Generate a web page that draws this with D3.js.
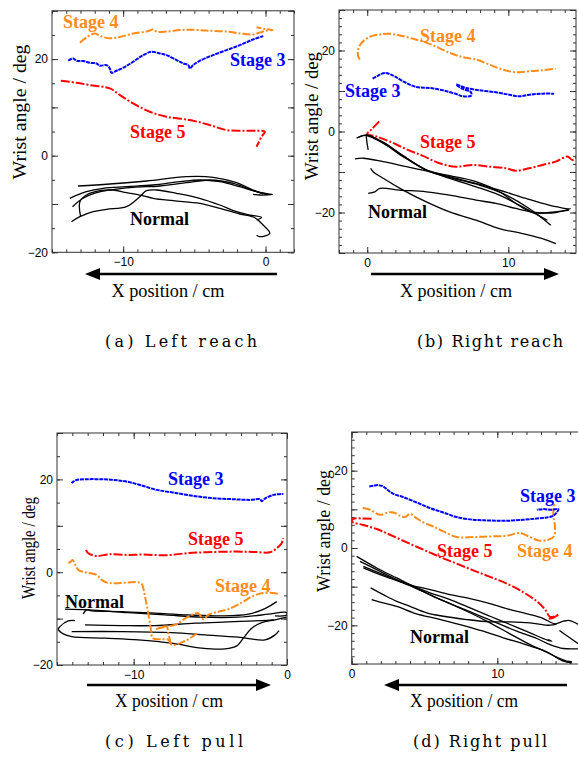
<!DOCTYPE html>
<html>
<head>
<meta charset="utf-8">
<script src="https://cdn.jsdelivr.net/npm/d3@7"></script>
<style>
  body { margin: 0; background: #fff; }
  svg { display: block; }
</style>
</head>
<body>
<div id="chart"></div>
<script>
// ---- (a) left reach : [x cm, wrist deg]
const leftReachStage4 = [[-13.04,23.4],[-12.58,24.5],[-11.99,25.3],[-11.64,24.8],[-10.94,24.3],[-10.23,24.6],[-9.30,25.3],[-8.36,25.7],[-7.89,26.1],[-7.66,25.7],[-6.96,25.7],[-6.02,26.0],[-5.32,26.1],[-4.15,25.9],[-2.74,25.7],[-1.80,25.3],[-0.87,25.1],[-0.40,25.5],[0.07,25.9],[0.49,26.0],[-0.16,26.3],[-0.63,26.6]];
const leftReachStage3 = [[-13.86,19.66],[-13.51,20.14],[-13.28,19.66],[-12.81,19.59],[-12.34,19.24],[-11.87,19.10],[-11.64,18.62],[-11.17,18.76],[-10.94,18.07],[-10.82,17.17],[-10.47,17.59],[-10.0,18.21],[-9.30,19.45],[-8.59,20.83],[-8.01,21.52],[-7.42,21.17],[-6.96,20.83],[-6.25,19.79],[-5.78,19.10],[-5.43,18.76],[-5.32,18.07],[-5.08,18.76],[-4.61,19.66],[-3.68,20.83],[-2.74,21.86],[-1.80,22.90],[-0.87,24.07],[-0.16,24.76]];
const leftReachStage5 = [[-14.38,15.52],[-13.28,15.10],[-12.34,14.62],[-10.94,13.93],[-10.23,12.55],[-9.30,10.83],[-8.13,9.10],[-6.96,8.07],[-5.32,7.38],[-3.91,6.34],[-2.74,5.31],[-1.57,5.17],[-0.63,5.17],[-0.05,4.97],[-0.28,3.93],[-0.63,1.86]];
const leftReachNormal = [
  [[-13.17,-6.27],[-10.94,-5.86],[-8.36,-5.24],[-5.55,-4.35],[-3.68,-4.47],[-2.04,-5.59],[-0.87,-7.10],[-0.17,-7.79],[0.49,-8.0],[-0.40,-8.14],[-0.87,-8.0]],
  [[-13.75,-8.82],[-12.58,-7.45],[-11.41,-6.75],[-9.77,-6.42],[-7.90,-6.07],[-6.02,-5.38],[-4.62,-5.03],[-3.21,-5.38],[-1.81,-6.42],[-0.63,-7.45],[0.18,-7.93]],
  [[-13.63,-13.66],[-13.04,-12.63],[-12.11,-11.59],[-11.17,-11.10],[-9.77,-10.56],[-8.83,-8.49],[-8.36,-7.25],[-7.66,-7.10],[-6.25,-7.79],[-4.62,-8.82],[-3.21,-10.21],[-2.04,-11.59],[-1.10,-12.28],[-0.28,-12.76],[-0.63,-13.31]],
  [[-12.99,-12.63],[-13.04,-9.53],[-12.58,-8.14],[-11.64,-7.25],[-10.71,-7.10],[-9.77,-7.66],[-8.83,-8.14],[-7.90,-8.82],[-6.49,-9.32],[-4.62,-9.86],[-3.21,-10.89],[-1.81,-12.07],[-0.75,-12.84],[-0.17,-14.35],[0.30,-16.07],[-0.40,-16.77],[-0.63,-16.48]],
  [[-13.56,-10.56],[-12.82,-8.82],[-11.88,-7.66],[-10.94,-7.10],[-9.30,-6.55],[-7.43,-6.27],[-5.55,-5.59],[-3.91,-5.03],[-2.27,-5.72],[-1.10,-6.96],[-0.17,-7.93]]
];

// ---- (b) right reach
const rightReachStage4 = [[-0.52,17.77],[-0.64,18.60],[-0.64,20.25],[-0.40,21.90],[0.19,23.39],[0.89,23.97],[1.60,24.13],[2.31,23.72],[3.25,22.89],[4.42,21.65],[5.84,19.42],[6.78,18.35],[7.72,17.77],[8.66,16.53],[9.60,15.29],[10.54,14.63],[11.48,14.88],[12.42,15.12],[13.36,15.54]];
const rightReachStage3 = [[0.38,13.06],[0.78,13.80],[1.25,14.46],[1.84,13.80],[2.54,12.40],[3.48,10.99],[4.42,10.74],[5.36,10.17],[6.31,9.26],[6.78,8.68],[7.36,8.84],[7.36,9.67],[6.78,10.50],[6.31,11.57],[7.01,10.74],[7.95,10.17],[9.13,9.67],[10.07,9.09],[10.78,8.68],[11.48,9.09],[12.42,9.34],[13.25,9.34]];
const rightReachStage5 = [[0.85,2.5],[0.3,0.5],[0,-0.6],[0.66,-1.24],[1.60,-2.48],[2.78,-4.38],[3.95,-6.03],[5.13,-7.85],[6.31,-8.68],[7.48,-8.26],[8.66,-8.68],[9.84,-9.09],[10.54,-9.67],[11.48,-9.09],[12.42,-8.26],[13.36,-7.44],[14.19,-6.20],[14.54,-7.02],[14.89,-6.20]];
const rightReachNormal = [
  [[-0.75,-1.64],[-0.52,-1.24],[-0.04,-0.99],[1.13,-2.88],[2.54,-6.20],[4.19,-9.50],[5.84,-11.56],[7.72,-13.65],[9.37,-15.71],[11.01,-18.61],[12.77,-21.91]],
  [[0.07,-4.54],[-0.04,-2.06],[-0.04,-0.99],[1.37,-3.30],[2.78,-6.60],[4.31,-9.75],[6.07,-11.56],[7.95,-13.23],[9.60,-15.29],[11.48,-19.01],[13.01,-23.15]],
  [[-0.64,-1.49],[-0.04,-0.82],[1.13,-2.63],[2.54,-5.96],[4.07,-9.26],[5.84,-11.17],[7.72,-12.80],[9.37,-14.47],[11.25,-16.53],[12.89,-18.19],[14.30,-19.18]],
  [[-0.87,-6.77],[-0.28,-6.60],[1.13,-7.44],[2.78,-8.68],[4.19,-9.75],[5.84,-10.92],[7.72,-12.40],[9.37,-14.89],[10.54,-17.77],[11.72,-20.0],[12.89,-20.0],[14.30,-19.43]],
  [[0.24,-9.08],[0.42,-9.92],[1.13,-11.56],[2.54,-14.47],[4.19,-17.37],[5.84,-19.85],[7.72,-21.91],[9.37,-23.97],[11.01,-25.21],[12.42,-26.45],[13.37,-27.69]],
  [[0.07,-15.29],[0.54,-14.89],[0.90,-14.05],[2.31,-14.47],[4.19,-14.89],[5.84,-15.71],[7.72,-16.95],[9.13,-17.77],[10.54,-19.01],[11.95,-20.0],[13.37,-20.0],[14.42,-19.01]]
];

// ---- (c) left pull
const leftPullStage3 = [[-14.05,19.18],[-13.94,19.53],[-13.72,19.89],[-13.07,20.04],[-12.20,20.04],[-11.33,19.89],[-10.46,19.53],[-9.59,18.81],[-8.50,17.74],[-7.42,17.16],[-6.11,16.44],[-4.81,15.95],[-3.50,15.73],[-2.41,15.58],[-1.76,15.73],[-1.65,15.30],[-1.44,15.86],[-0.89,16.66],[-0.24,16.88]];
const leftPullStage5 = [[-13.11,4.81],[-12.96,4.09],[-12.41,3.51],[-11.55,3.88],[-10.46,3.73],[-9.37,3.80],[-7.85,3.66],[-6.54,4.09],[-5.24,4.31],[-3.50,4.44],[-2.20,4.38],[-1.11,4.31],[-0.67,5.17],[-0.35,6.25],[-0.24,7.33]];
const leftPullStage4 = [
  [[-14.26,1.94],[-14.11,2.28],[-13.98,2.65],[-13.83,1.79],[-13.61,0.50],[-13.07,-0.09],[-12.41,-0.58],[-12.09,-1.66],[-11.76,-2.24],[-11.22,-2.37],[-9.59,-2.24],[-9.44,-2.74],[-9.26,-5.26],[-9.05,-8.84],[-8.87,-12.44],[-8.76,-14.22],[-8.17,-14.44],[-7.74,-14.59],[-7.52,-15.67],[-6.65,-14.81],[-5.79,-13.02]],
  [[-7.57,-15.45],[-7.74,-13.15],[-7.85,-11.72],[-8.50,-12.22],[-7.85,-11.72],[-7.31,-11.36],[-6.44,-9.57],[-5.79,-8.84],[-5.46,-10.13],[-5.13,-9.20],[-4.48,-8.49],[-3.83,-7.97],[-2.95,-6.55],[-2.30,-5.26],[-1.65,-4.53],[-0.78,-4.53],[-0.57,-4.74]]
];
const leftPullNormal = [
  [[-13.29,-8.99],[-13.07,-8.13],[-12.74,-8.34],[-10.78,-8.49],[-8.61,-8.84],[-6.44,-9.20],[-4.26,-9.42],[-2.52,-9.05],[-1.44,-7.84],[-0.67,-6.34]],
  [[-14.48,-7.97],[-12.96,-8.13],[-10.35,-8.71],[-7.96,-9.20],[-5.56,-9.70],[-3.18,-9.70],[-1.22,-9.05],[-0.13,-8.62],[0.04,-8.99],[-0.13,-9.35],[-0.78,-9.42]],
  [[-13.18,-11.36],[-10.78,-11.51],[-8.61,-11.51],[-6.0,-10.99],[-3.83,-10.71],[-1.65,-10.43],[-0.89,-10.28]],
  [[-14.04,-12.80],[-10.78,-12.80],[-7.52,-13.02],[-5.35,-13.51],[-3.18,-14.01],[-1.44,-14.59],[-0.78,-13.51],[-0.52,-12.59]],
  [[-13.83,-10.43],[-14.27,-10.50],[-14.81,-11.72],[-14.92,-12.28],[-14.59,-13.30],[-14.04,-13.88],[-11.87,-14.22],[-9.70,-14.59],[-7.52,-15.30],[-5.56,-16.38],[-4.04,-16.53],[-3.28,-15.88],[-2.85,-14.22],[-2.30,-12.07],[-1.65,-10.86],[-0.78,-10.28],[-0.02,-9.70]]
];

// ---- (d) right pull
const rightPullStage3 = [[1.21,15.90],[1.48,16.08],[1.83,16.26],[2.17,15.90],[2.51,14.86],[2.86,14.01],[3.54,13.16],[4.46,11.77],[5.38,10.32],[6.29,9.19],[7.21,8.0],[8.35,7.30],[9.50,7.12],[10.65,7.05],[11.79,7.30],[12.71,7.64],[13.39,7.90],[13.85,8.34],[14.08,9.19],[14.19,10.06],[13.74,9.88],[13.16,10.06],[12.71,9.88]];
const rightPullStage4 = [[0.76,10.32],[1.26,9.88],[1.94,8.59],[2.51,9.19],[2.86,9.19],[3.32,8.34],[3.66,8.0],[4.00,8.85],[4.35,8.0],[4.92,6.61],[5.60,5.57],[6.29,4.28],[7.21,2.84],[8.35,2.84],[9.50,2.99],[10.65,3.17],[11.56,3.87],[12.25,2.84],[12.82,1.96],[13.50,2.14],[13.89,2.99],[13.96,5.57],[13.85,8.16],[13.85,9.88],[13.96,11.61]];
const rightPullStage5 = [[1.37,7.56],[0.69,7.64],[0.11,7.56],[0,6.86],[0.80,5.94],[1.72,4.90],[2.63,3.43],[3.78,1.45],[4.92,-0.44],[6.06,-2.32],[7.21,-4.05],[8.35,-5.78],[9.50,-7.48],[10.65,-9.21],[11.79,-11.46],[12.71,-13.78],[13.28,-15.92],[13.62,-17.81],[14.08,-17.47],[14.19,-17.21],[13.85,-18.06],[13.50,-18.32]];
const rightPullNormal = [
  [[0.34,-2.17],[1.72,-5.16],[3.09,-7.74],[4.0,-9.47],[5.38,-11.61],[6.75,-13.34],[8.13,-15.48],[9.50,-17.65],[10.87,-19.79],[12.25,-21.94],[13.16,-23.41],[13.74,-24.10],[13.50,-23.66]],
  [[0.57,-3.46],[1.72,-5.60],[3.09,-8.18],[4.12,-9.91],[5.60,-12.49],[7.21,-15.07],[8.59,-17.21],[9.96,-19.35],[11.33,-21.52],[12.71,-23.41],[13.62,-24.97],[14.53,-25.99],[15.56,-26.07]],
  [[0.80,-4.75],[2.17,-6.89],[3.32,-8.62],[4.12,-9.65],[5.38,-10.76],[6.75,-12.05],[8.13,-13.08],[9.50,-14.37],[10.87,-15.92],[12.25,-17.21],[13.16,-18.25],[13.96,-19.61],[14.53,-18.94],[14.99,-18.76],[15.56,-19.79]],
  [[0.80,-5.16],[1.94,-6.89],[3.32,-8.77],[4.23,-10.06],[5.60,-12.49],[7.90,-16.36],[9.50,-19.35],[10.87,-22.20],[12.25,-24.97],[13.62,-27.36],[14.53,-29.27],[15.11,-29.68]],
  [[1.30,-10.32],[2.17,-12.05],[3.09,-13.78],[4.0,-15.07],[5.15,-16.78],[6.29,-17.65],[7.90,-18.50],[9.50,-19.10],[10.87,-19.10],[12.25,-19.35],[13.62,-19.97],[14.08,-19.61]],
  [[1.37,-13.34],[2.17,-14.19],[3.09,-15.07],[4.46,-17.03],[5.84,-18.25],[7.44,-19.79],[9.04,-21.52],[10.41,-23.23],[11.79,-24.77],[13.16,-26.50],[14.08,-28.23],[14.77,-29.27],[15.11,-29.42]],
  [[14.26,-21.34],[15.56,-24.77]]
];

// tick labels
const yTickLabels = [-20, 0, 20];
const leftXTickLabels = [-10, 0];
const rightXTickLabels = [0, 10];

const ORANGE = "#ff8c1a", BLUE = "#0000ff", RED = "#ff0000";
const styles = {
  stage3: { color: BLUE, dash: "4,0.8", width: 2 },
  stage4: { color: ORANGE, dash: "8,2,2,2", width: 2 },
  stage5: { color: RED, dash: "9,2,2,2", width: 2 },
  normal: { color: "#000", dash: null, width: 1.3 }
};

const panels = [
  { id: "a", left: 52, right: 294, top: 10.8, bottom: 252.3, xDomain: [-15, 2], yDomain: [-20, 30], yMinor: 5,
    xLabels: leftXTickLabels, arrow: { from: 277, to: 85, y: 274 },
    xTitle: { x: 168, y: 297, len: 113 }, yTitle: { x: 26, y: 112, len: 135 },
    caption: { x: 105, y: 347, len: 152, text: "(a) Left reach" },
    series: [
      { style: "stage4", traces: [leftReachStage4] },
      { style: "stage3", traces: [leftReachStage3] },
      { style: "stage5", traces: [leftReachStage5] },
      { style: "normal", traces: leftReachNormal }
    ],
    notes: [["Stage 4", "stage4", 63, 28], ["Stage 3", "stage3", 230, 66], ["Stage 5", "stage5", 130, 138], ["Normal", "normal", 130, 225]] },
  { id: "b", left: 339, right: 576, top: 10, bottom: 253, xDomain: [-2, 14.8], yDomain: [-30, 30], yMinor: 2,
    xLabels: rightXTickLabels, arrow: { from: 371, to: 559, y: 274 },
    xTitle: { x: 456, y: 297, len: 112 }, yTitle: { x: 318, y: 116, len: 128 },
    caption: { x: 417, y: 347, len: 146, text: "(b) Right reach" },
    series: [
      { style: "stage4", traces: [rightReachStage4] },
      { style: "stage3", traces: [rightReachStage3] },
      { style: "stage5", traces: [rightReachStage5] },
      { style: "normal", traces: rightReachNormal }
    ],
    notes: [["Stage 4", "stage4", 420, 42], ["Stage 3", "stage3", 345, 97], ["Stage 5", "stage5", 420, 148], ["Normal", "normal", 368, 218]] },
  { id: "c", left: 57, right: 287, top: 433, bottom: 665, xDomain: [-15, 0], yDomain: [-20, 30], yMinor: 5,
    xLabels: leftXTickLabels, arrow: { from: 87, to: 271, y: 685 },
    xTitle: { x: 169, y: 707, len: 108 }, yTitle: { x: 35, y: 548, len: 102 },
    caption: { x: 105, y: 747, len: 138, text: "(c) Left pull" },
    series: [
      { style: "normal", traces: leftPullNormal },
      { style: "stage3", traces: [leftPullStage3] },
      { style: "stage5", traces: [leftPullStage5] },
      { style: "stage4", traces: leftPullStage4 }
    ],
    notes: [["Stage 3", "stage3", 168, 485], ["Stage 5", "stage5", 188, 545], ["Stage 4", "stage4", 215, 592], ["Normal", "normal", 65, 608]] },
  { id: "d", left: 351.7, right: 584.7, top: 432, bottom: 664, xDomain: [0, 16], yDomain: [-30, 30], yMinor: 2,
    xLabels: rightXTickLabels, arrow: { from: 567, to: 384, y: 685 },
    xTitle: { x: 464, y: 707, len: 108 }, yTitle: { x: 330, y: 531, len: 122 },
    caption: { x: 413, y: 747, len: 134, text: "(d) Right pull" },
    series: [
      { style: "normal", traces: rightPullNormal },
      { style: "stage5", traces: [rightPullStage5] },
      { style: "stage4", traces: [rightPullStage4] },
      { style: "stage3", traces: [rightPullStage3] }
    ],
    notes: [["Stage 3", "stage3", 520, 502], ["Stage 5", "stage5", 437, 557], ["Stage 4", "stage4", 517, 557], ["Normal", "normal", 410, 643]] }
];

const svg = d3.select("#chart").append("svg")
    .attr("width", 578)
    .attr("height", 769);

const fmt = d3.format("d");
const SERIF = "Liberation Serif, Times New Roman, serif";

function drawPanel(p) {
  const x = d3.scaleLinear().domain(p.xDomain).range([p.left, p.right]);
  const y = d3.scaleLinear().domain(p.yDomain).range([p.bottom, p.top]);
  const g = svg.append("g");

  // x ticks every 1 cm, long ones every 10
  const xMinor = d3.range(Math.ceil(p.xDomain[0]), Math.floor(p.xDomain[1]) + 1);
  const xMajor = xMinor.filter(d => d % 10 === 0);
  const yMinorVals = d3.range(p.yDomain[0], p.yDomain[1] + 0.01, p.yMinor);
  const yMajor = yMinorVals.filter(d => d % 10 === 0);

  const tickStyle = sel => {
    sel.select(".domain").remove();
    sel.selectAll("line").attr("stroke", "#333");
    sel.selectAll("text").attr("font-family", "Liberation Sans, Arial, sans-serif").attr("font-size", 12).attr("fill", "#000");
  };

  // minor ticks on all four sides
  g.append("g").attr("transform", `translate(0,${p.bottom})`)
    .call(d3.axisBottom(x).tickValues(xMinor).tickSize(-3).tickFormat("")).call(tickStyle);
  g.append("g").attr("transform", `translate(0,${p.top})`)
    .call(d3.axisTop(x).tickValues(xMinor).tickSize(-3).tickFormat("")).call(tickStyle);
  g.append("g").attr("transform", `translate(${p.left},0)`)
    .call(d3.axisLeft(y).tickValues(yMinorVals).tickSize(-3).tickFormat("")).call(tickStyle);
  g.append("g").attr("transform", `translate(${p.right},0)`)
    .call(d3.axisRight(y).tickValues(yMinorVals).tickSize(-3).tickFormat("")).call(tickStyle);

  // major ticks with labels
  g.append("g").attr("transform", `translate(0,${p.bottom})`)
    .call(d3.axisBottom(x).tickValues(xMajor).tickSize(-6).tickPadding(5)
      .tickFormat(d => p.xLabels.includes(d) ? fmt(d) : "")).call(tickStyle);
  g.append("g").attr("transform", `translate(0,${p.top})`)
    .call(d3.axisTop(x).tickValues(xMajor).tickSize(-6).tickFormat("")).call(tickStyle);
  g.append("g").attr("transform", `translate(${p.left},0)`)
    .call(d3.axisLeft(y).tickValues(yMajor).tickSize(-6).tickPadding(4)
      .tickFormat(d => yTickLabels.includes(d) ? fmt(d) : "")).call(tickStyle);
  g.append("g").attr("transform", `translate(${p.right},0)`)
    .call(d3.axisRight(y).tickValues(yMajor).tickSize(-6).tickFormat("")).call(tickStyle);

  // frame
  g.append("rect")
    .attr("x", p.left).attr("y", p.top)
    .attr("width", p.right - p.left).attr("height", p.bottom - p.top)
    .attr("fill", "none").attr("stroke", "#333").attr("stroke-width", 1);

  // clip for the traces
  svg.append("clipPath").attr("id", "clip-" + p.id)
    .append("rect")
    .attr("x", p.left).attr("y", p.top)
    .attr("width", p.right - p.left).attr("height", p.bottom - p.top);

  const line = d3.line()
    .x(d => x(d[0]))
    .y(d => y(d[1]))
    .curve(d3.curveCatmullRom.alpha(0.5));

  const plot = g.append("g").attr("clip-path", `url(#clip-${p.id})`);
  p.series.forEach(s => {
    const st = styles[s.style];
    plot.selectAll(null)
      .data(s.traces)
      .enter().append("path")
      .attr("d", line)
      .attr("fill", "none")
      .attr("stroke", st.color)
      .attr("stroke-width", st.width)
      .attr("stroke-dasharray", st.dash)
      .attr("stroke-linejoin", "round");
  });

  // Stage / Normal labels
  g.selectAll("text.note")
    .data(p.notes)
    .enter().append("text")
    .attr("class", "note")
    .attr("x", d => d[2])
    .attr("y", d => d[3])
    .attr("font-family", SERIF)
    .attr("font-weight", "bold")
    .attr("font-size", 18)
    .attr("fill", d => styles[d[1]].color)
    .text(d => d[0]);

  // direction arrow
  const a = p.arrow;
  const dir = Math.sign(a.to - a.from);
  const headLen = 15, headHalf = 6;
  g.append("line")
    .attr("x1", a.from).attr("y1", a.y)
    .attr("x2", a.to - dir * headLen).attr("y2", a.y)
    .attr("stroke", "#000").attr("stroke-width", 2.7);
  g.append("path")
    .attr("d", `M${a.to},${a.y} L${a.to - dir * headLen},${a.y - headHalf} L${a.to - dir * headLen},${a.y + headHalf} Z`)
    .attr("fill", "#000");

  // axis titles
  g.append("text")
    .attr("x", p.xTitle.x).attr("y", p.xTitle.y)
    .attr("text-anchor", "middle")
    .attr("font-family", SERIF)
    .attr("font-size", 18)
    .attr("textLength", p.xTitle.len).attr("lengthAdjust", "spacingAndGlyphs")
    .text("X position / cm");
  g.append("text")
    .attr("transform", `translate(${p.yTitle.x},${p.yTitle.y}) rotate(-90)`)
    .attr("text-anchor", "middle")
    .attr("font-family", SERIF)
    .attr("font-size", 18)
    .attr("textLength", p.yTitle.len).attr("lengthAdjust", "spacingAndGlyphs")
    .text("Wrist angle / deg");

  // caption
  g.append("text")
    .attr("x", p.caption.x).attr("y", p.caption.y)
    .attr("font-family", "DejaVu Serif, serif")
    .attr("font-size", 16)
    .attr("textLength", p.caption.len).attr("lengthAdjust", "spacing")
    .text(p.caption.text);
}

panels.forEach(drawPanel);
</script>
</body>
</html>
